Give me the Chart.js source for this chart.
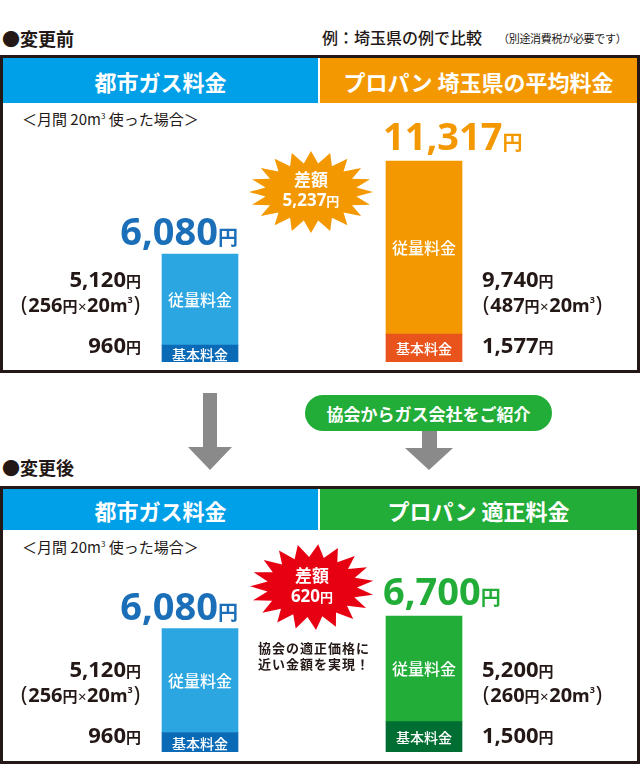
<!DOCTYPE html>
<html lang="ja"><head><meta charset="utf-8">
<script src="https://cdn.jsdelivr.net/npm/chart.js@4.4.1/dist/chart.umd.min.js"></script>
<style>
*{box-sizing:border-box}
body{margin:0;width:640px;height:772px;position:relative;background:#fff;overflow:hidden;
 font-family:"Noto Sans","Noto Sans CJK JP",sans-serif;color:#231815}
.a{position:absolute;line-height:1;white-space:nowrap}
.panel{position:absolute;left:0;width:640px;border:3px solid #231815;background:#fff}
.hd{position:absolute;display:flex;align-items:center;justify-content:center;color:#fff;font-weight:700;font-size:22px;font-family:"Noto Sans CJK JP",sans-serif}
.jp{font-family:"Noto Sans CJK JP",sans-serif}
canvas{position:absolute;left:0}
.star{position:absolute;left:0;top:0}
.startxt{position:absolute;color:#fff;font-weight:700;text-align:center;line-height:1.15;font-size:17px}
</style></head>
<body>
<script>
const categoriesBefore = ['都市ガス料金', 'プロパン 埼玉県の平均料金'];
const categoriesAfter  = ['都市ガス料金', 'プロパン 適正料金'];
const segmentNames = ['基本料金', '従量料金'];
const basicBefore = [960, 1577];
const usageBefore = [5120, 9740];
const unitPriceBefore = [256, 487];
const basicAfter = [960, 1500];
const usageAfter = [5120, 5200];
const unitPriceAfter = [256, 260];
const monthlyVolume = 20;
const scaleMaxBefore = 12000;
const scaleMaxAfter = 7000;
</script>

<div class="a jp" style="left:2px;top:29px;font-size:18px;font-weight:700">●変更前</div>
<div class="a jp" style="left:322px;top:29px;font-size:16px;font-weight:500">例：埼玉県の例で比較</div>
<div class="a jp" style="left:498px;top:33px;font-size:11px;letter-spacing:-0.3px">（別途消費税が必要です）</div>

<div class="panel" style="top:55px;height:318px"></div>
<div class="hd" id="h1" style="left:3px;top:58px;width:315px;height:45px;background:#00a0e9"></div>
<div class="hd" id="h2" style="left:320px;top:58px;width:317px;height:45px;background:#f39800"></div>
<div class="a jp" style="left:22px;top:111px;font-size:15px">＜月間 20m<sup style="font-size:8px;vertical-align:6px">3</sup> 使った場合＞</div>

<div class="a jp" style="left:2px;top:458px;font-size:18px;font-weight:700">●変更後</div>
<div class="panel" style="top:486px;height:278px"></div>
<div class="hd" id="h3" style="left:3px;top:489px;width:315px;height:41px;background:#00a0e9"></div>
<div class="hd" id="h4" style="left:320px;top:489px;width:317px;height:41px;background:#22ac38"></div>
<div class="a jp" style="left:22px;top:539px;font-size:15px">＜月間 20m<sup style="font-size:8px;vertical-align:6px">3</sup> 使った場合＞</div>

<svg class="star" width="640" height="772" style="pointer-events:none">
 <polygon id="star1" fill="#f39800"/>
 <polygon id="star2" fill="#e60012"/>
 <polygon fill="#8a8a8a" points="203,393 217,393 217,447 232,447 210,470 188,447 203,447"/>
 <polygon fill="#8a8a8a" points="422,428 437,428 437,448 453,448 429,470 405,448 422,448"/>
</svg>
<div class="a jp" style="left:305px;top:395px;width:247px;height:36px;border-radius:18px;background:#22ac38;color:#fff;font-weight:700;font-size:17px;display:flex;align-items:center;justify-content:center">協会からガス会社をご紹介</div>

<canvas id="c1" width="640" height="266" style="top:104px"></canvas>
<canvas id="c2" width="640" height="230" style="top:530px"></canvas>

<div class="startxt" id="s1" style="left:261px;top:170px;width:100px"></div>
<div class="startxt" id="s2" style="left:262px;top:566px;width:100px"></div>
<div class="a jp" style="left:258px;top:640px;font-size:13px;font-weight:700;letter-spacing:1px;line-height:16px">協会の適正価格に<br>近い金額を実現！</div>

<script>
document.getElementById('h1').textContent = categoriesBefore[0];
document.getElementById('h2').textContent = categoriesBefore[1];
document.getElementById('h3').textContent = categoriesAfter[0];
document.getElementById('h4').textContent = categoriesAfter[1];

function starPoints(cx, cy, rx, ry, irx, iry, n, rot){
  const p=[];
  for(let i=0;i<n*2;i++){
    const a = rot + Math.PI*i/n;
    const o = i%2===0;
    p.push((cx+Math.cos(a)*(o?rx:irx)).toFixed(1)+','+(cy+Math.sin(a)*(o?ry:iry)).toFixed(1));
  }
  return p.join(' ');
}
document.getElementById('star1').setAttribute('points', starPoints(311,192,62,41,46,29,20,-Math.PI/2));
document.getElementById('star2').setAttribute('points', starPoints(312,587,62,43,45,30,19,-Math.PI/2+0.1));

const fmt = v => v.toLocaleString('en-US');
const totBefore = basicBefore.map((b,i)=>b+usageBefore[i]);
const totAfter = basicAfter.map((b,i)=>b+usageAfter[i]);
document.getElementById('s1').innerHTML = '差額<br>'+fmt(totBefore[1]-totBefore[0])+'<span style="font-size:13px">円</span>';
document.getElementById('s2').innerHTML = '差額<br>'+fmt(totAfter[1]-totAfter[0])+'<span style="font-size:13px">円</span>';

const FF = '"Noto Sans","Noto Sans CJK JP",sans-serif';
function runs(ctx, parts, x, y, align){
  let w=0;
  parts.forEach(p=>{ctx.font=(p.w||700)+' '+p.s+'px '+FF; p.mw=ctx.measureText(p.t).width+(p.g||0); w+=p.mw;});
  let cx = align==='right'? x-w : x;
  ctx.textBaseline='alphabetic'; ctx.textAlign='left';
  parts.forEach(p=>{ctx.font=(p.w||700)+' '+p.s+'px '+FF; ctx.fillStyle=p.c||'#231815'; ctx.fillText(p.t,cx+(p.g||0)/2,y+(p.dy||0)); cx+=p.mw;});
}

function labelPlugin(basic, usage, unit, totalColors){
  return {
    id:'labels',
    afterDatasetsDraw(chart){
      const ctx = chart.ctx;
      const m0 = chart.getDatasetMeta(0).data, m1 = chart.getDatasetMeta(1).data;
      ctx.save();
      m0.forEach((e0,i)=>{
        const e1 = m1[i];
        const w = e1.width, left = e1.x-w/2, right = e1.x+w/2, bottom = e0.base;
        ctx.fillStyle='#fff'; ctx.textAlign='center'; ctx.textBaseline='middle';
        ctx.font='500 14px "Noto Sans CJK JP",sans-serif';
        ctx.fillText(segmentNames[0], e0.x, (e0.y+e0.base)/2+1);
        ctx.font='500 16px "Noto Sans CJK JP",sans-serif';
        ctx.fillText(segmentNames[1], e1.x, (e1.y+e1.base)/2);
        const tot = basic[i]+usage[i];
        const c = totalColors[i];
        const tparts=[{t:fmt(tot),s:38,c:c},{t:'円',s:20,c:c}];
        if(i===0) runs(ctx,tparts,right,e1.y-9,'right'); else runs(ctx,tparts,left-3,e1.y-11,'left');
        const sx = i===0 ? left-21 : right+20, al = i===0?'right':'left';
        runs(ctx,[{t:fmt(usage[i]),s:22},{t:'円',s:15}], sx, bottom-75, al);
        runs(ctx,[{t:'(',s:21,w:400,g:2},{t:String(unit[i]),s:20},{t:'円',s:15},{t:'×',s:15,w:400,g:1},{t:String(monthlyVolume),s:20},{t:'m',s:18},{t:'3',s:9,dy:-9},{t:')',s:21,w:400,g:2}], sx, bottom-50, al);
        runs(ctx,[{t:fmt(basic[i]),s:22},{t:'円',s:15}], sx, bottom-9, al);
      });
      ctx.restore();
    }
  };
}

function makeChart(id, cats, basic, usage, unit, basicColors, usageColors, totalColors, yMax, padTop){
  new Chart(document.getElementById(id), {
    type:'bar',
    data:{labels:cats, datasets:[
      {label:segmentNames[0], data:basic, backgroundColor:basicColors, barThickness:76, borderWidth:0},
      {label:segmentNames[1], data:usage, backgroundColor:usageColors, barThickness:76, borderWidth:0}
    ]},
    options:{responsive:false, animation:false, events:[],
      layout:{padding:{left:88,right:104,top:padTop,bottom:8}},
      scales:{x:{display:false,stacked:true}, y:{display:false,stacked:true,min:0,max:yMax}},
      plugins:{legend:{display:false}, tooltip:{enabled:false}}},
    plugins:[labelPlugin(basic, usage, unit, totalColors)]
  });
}
makeChart('c1', categoriesBefore, basicBefore, usageBefore, unitPriceBefore,
  ['#0a6ab6','#e8541c'], ['#2ca6e0','#f39800'], ['#1a6fb8','#f39800'], scaleMaxBefore, 45);
makeChart('c2', categoriesAfter, basicAfter, usageAfter, unitPriceAfter,
  ['#0a6ab6','#006e33'], ['#2ca6e0','#22ac38'], ['#1a6fb8','#22ac38'], scaleMaxAfter, 80);
</script>
</body></html>
